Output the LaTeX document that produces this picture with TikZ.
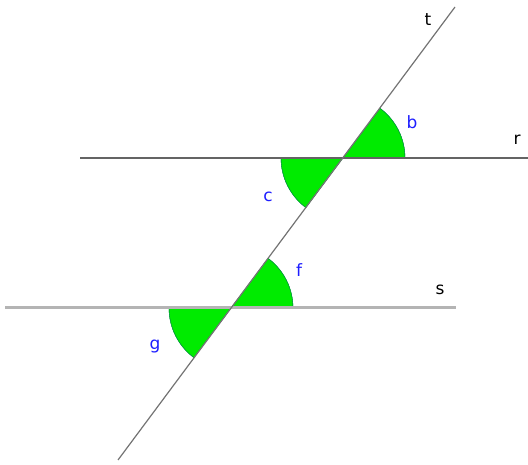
\documentclass[tikz,border=0pt]{standalone}
\usepackage{fontspec}
\setmainfont{DejaVu Sans}
\begin{document}
\begin{tikzpicture}[x=1pt,y=1pt,
  lineR/.style={draw={rgb,255:red,100;green,100;blue,100}, line width=1.4pt},
  lineS/.style={draw={rgb,255:red,180;green,180;blue,180}, line width=3pt},
  lineT/.style={draw={rgb,255:red,115;green,115;blue,115}, line width=1.2pt},
  sector/.style={fill={rgb,255:red,0;green,235;blue,0}, draw={rgb,255:red,0;green,150;blue,60}, line width=0.4pt},
  anglab/.style={text={rgb,255:red,30;green,30;blue,255}, font=\fontsize{17}{17}\selectfont, inner sep=0pt},
  linelab/.style={text=black, font=\fontsize{17}{17}\selectfont, inner sep=0pt}]
\useasboundingbox (0,0) rectangle (528,464);
% coordinates
\coordinate (P) at (343,306);
\coordinate (Q) at (231,156);
\coordinate (rL) at (80,306);
\coordinate (rR) at (528,306);
\coordinate (sL) at (5,156);
\coordinate (sR) at (456,156);
\coordinate (tA) at (118,4);
\coordinate (tB) at (455,457);
% sectors
\fill[sector] (P) -- ++(0:62) arc[start angle=0,end angle=53.25,radius=62] -- cycle;
\fill[sector] (P) -- ++(180:62) arc[start angle=180,end angle=233.25,radius=62] -- cycle;
\fill[sector] (Q) -- ++(0:62) arc[start angle=0,end angle=53.25,radius=62] -- cycle;
\fill[sector] (Q) -- ++(180:62) arc[start angle=180,end angle=233.25,radius=62] -- cycle;
\draw[sector, fill=none] (P) ++(0:62) arc[start angle=0,end angle=53.25,radius=62];
\draw[sector, fill=none] (P) ++(180:62) arc[start angle=180,end angle=233.25,radius=62];
\draw[sector, fill=none] (Q) ++(0:62) arc[start angle=0,end angle=53.25,radius=62];
\draw[sector, fill=none] (Q) ++(180:62) arc[start angle=180,end angle=233.25,radius=62];
% lines
\draw[lineS] (sL) -- (sR);
\draw[lineR] (rL) -- (rR);
\draw[lineT] (tA) -- (tB);
% labels
\node[linelab] (labt) at (428,444) {t};
\node[linelab] (labr) at (517,324) {r};
\node[linelab] (labs) at (440,174) {s};
\node[anglab] (labb) at (412,342) {b};
\node[anglab] (labc) at (268,267) {c};
\node[anglab] (labf) at (299,194) {f};
\node[anglab] (labg) at (155,117) {g};
\end{tikzpicture}
\end{document}
